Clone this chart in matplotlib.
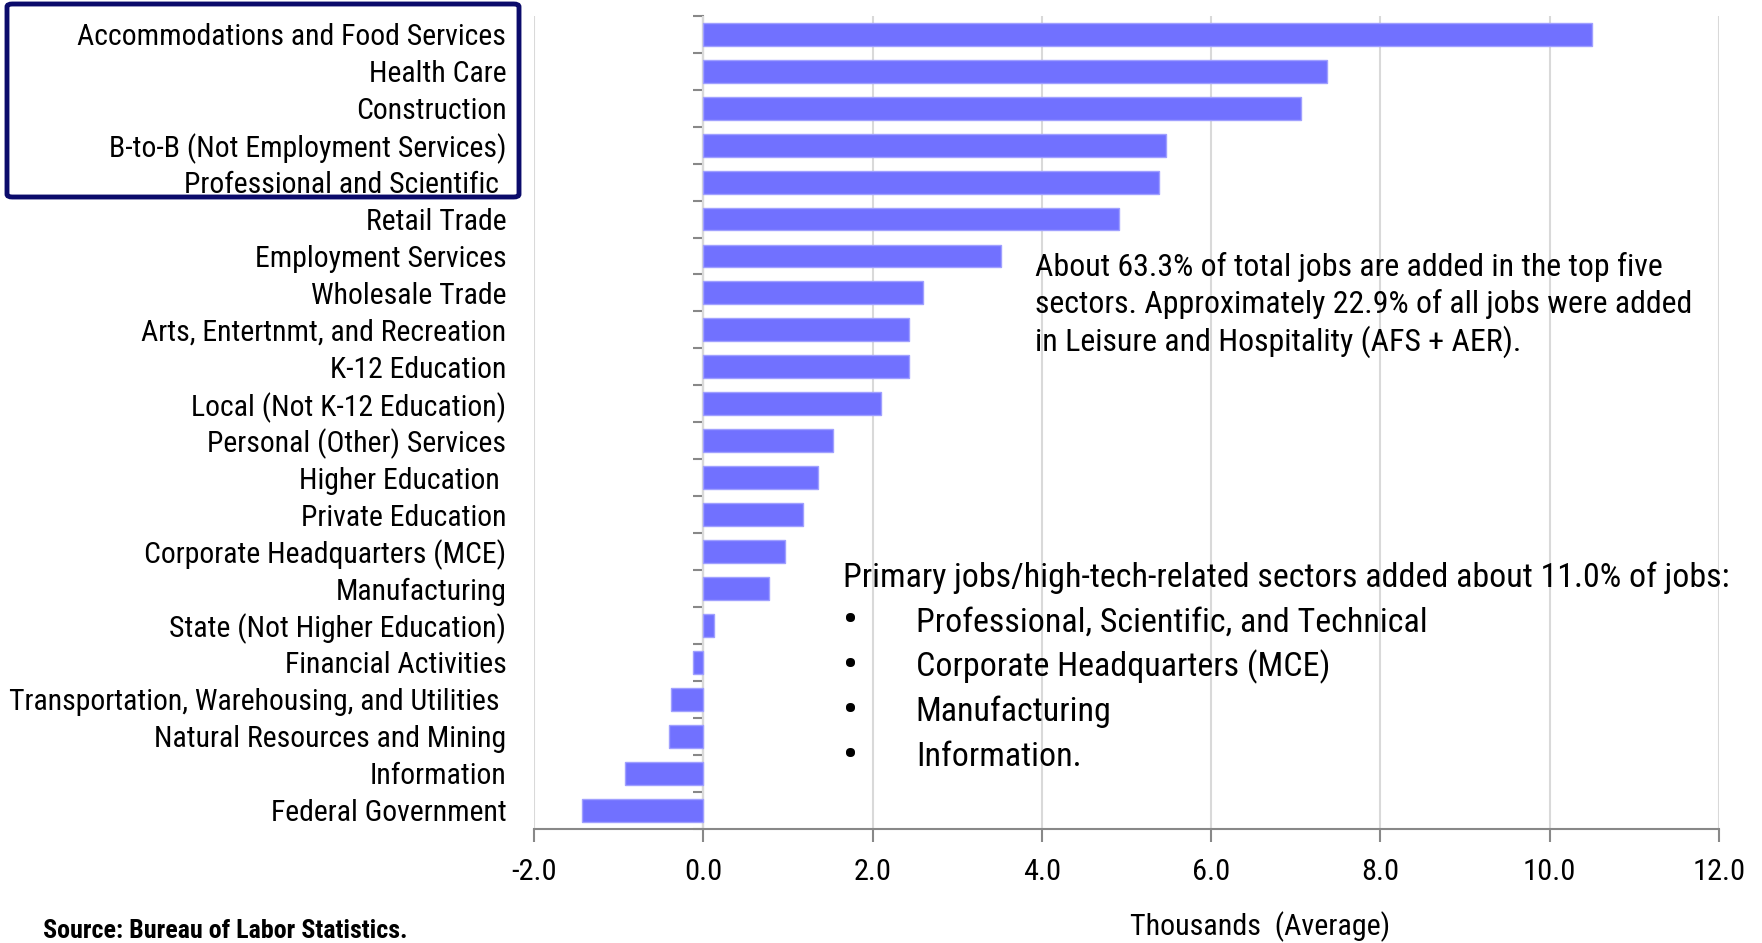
import numpy as np
import matplotlib
matplotlib.use("Agg")
import matplotlib.pyplot as plt
from matplotlib import font_manager
from matplotlib.patches import FancyBboxPatch

sectors = [
    "Accommodations and Food Services", "Health Care", "Construction",
    "B-to-B (Not Employment Services)", "Professional and Scientific ",
    "Retail Trade", "Employment Services", "Wholesale Trade",
    "Arts, Entertnmt, and Recreation", "K-12 Education",
    "Local (Not K-12 Education)", "Personal (Other) Services",
    "Higher Education ", "Private Education", "Corporate Headquarters (MCE)",
    "Manufacturing", "State (Not Higher Education)", "Financial Activities",
    "Transportation, Warehousing, and Utilities ", "Natural Resources and Mining",
    "Information", "Federal Government",
]
jobs = [10.50, 7.37, 7.06, 5.47, 5.38, 4.91, 3.52, 2.59, 2.43, 2.43, 2.10,
        1.53, 1.35, 1.18, 0.96, 0.78, 0.13, -0.12, -0.38, -0.41, -0.92, -1.43]
xticks = [-2, 0, 2, 4, 6, 8, 10, 12]

note_top = ("About 63.3% of total jobs are added in the top five\n"
            "sectors. Approximately 22.9% of all jobs were added\n"
            "in Leisure and Hospitality (AFS + AER).")
note_head = "Primary jobs/high-tech-related sectors added about 11.0% of jobs:"
note_items = ["Professional, Scientific, and Technical",
              "Corporate Headquarters (MCE)", "Manufacturing", "Information."]

# narrow font if there is one, else plain Arial metrics with smaller sizes
fams = {f.name for f in font_manager.fontManager.ttflist}
font, k = "Liberation Sans", 0.81
for name, kk in [("Liberation Sans Narrow", 1.0), ("Roboto Condensed", 0.95)]:
    if name in fams:
        font, k = name, kk
        break
plt.rcParams["font.family"] = [font, "DejaVu Sans"]

fig = plt.figure(figsize=(17.62, 9.43), dpi=100)
ax = fig.add_axes([0.3031, 0.1213, 0.6725, 0.8619])

y = np.arange(len(sectors))
ax.barh(y, jobs, height=0.62, color="#7171ff", edgecolor="#a0a0ff", linewidth=1, zorder=3)

ax.set_xlim(-2, 12)
ax.set_ylim(len(sectors) - 0.5, -0.5)
ax.set_xticks(xticks)
ax.set_xticklabels([f"{v:.1f}" for v in xticks], fontsize=23 * k)
ax.tick_params(axis="x", length=9, width=1.5, color="#888888", pad=12)
ax.set_yticks(y)
ax.set_yticklabels(sectors, fontsize=22.5 * k)
ax.tick_params(axis="y", length=0, pad=20)
ax.grid(axis="x", color="#d9d9d9", linewidth=1.5, zorder=0)
for s in ["top", "right", "left"]:
    ax.spines[s].set_visible(False)
ax.spines["bottom"].set_color("#888888")
ax.spines["bottom"].set_linewidth(1.5)

# category axis line sits at x = 0
sec = ax.secondary_yaxis(2 / 14)
sec.set_yticks(np.arange(-0.5, len(sectors), 1))
sec.set_yticklabels([])
sec.tick_params(axis="y", length=7, width=1.5, color="#888888")
sec.spines["left"].set_color("#888888")
sec.spines["left"].set_linewidth(1.5)

ax.text(3.92, 7.33, note_top, fontsize=24.2 * k, va="center", ha="left",
        linespacing=1.26, zorder=5)
ax.text(1.646, 14.7, note_head, fontsize=25.8 * k, va="center", ha="left", zorder=5)
for i, item in enumerate(note_items):
    yy = 15.92 + i * 1.21
    ax.text(1.74, yy, "\u2022", fontsize=34 * k, va="center", ha="center", zorder=5)
    ax.text(2.51, yy, item, fontsize=25.8 * k, va="center", ha="left", zorder=5)

box = FancyBboxPatch((7 / 1762, 1 - 197 / 943), 512 / 1762, 193 / 943,
                     boxstyle="round,pad=0,rounding_size=0.003",
                     transform=fig.transFigure, fill=False,
                     edgecolor="#0b0b6b", linewidth=3.5)
fig.patches.append(box)

fig.text(1260 / 1762, 1 - 927 / 943, "Thousands  (Average)", fontsize=22.7 * k,
         ha="center", va="center")
fig.text(43 / 1762, 1 - 931 / 943, "Source: Bureau of Labor Statistics.",
         fontsize=19.7 * k, fontweight="bold", ha="left", va="center")

fig.savefig("out.png", dpi=100)
